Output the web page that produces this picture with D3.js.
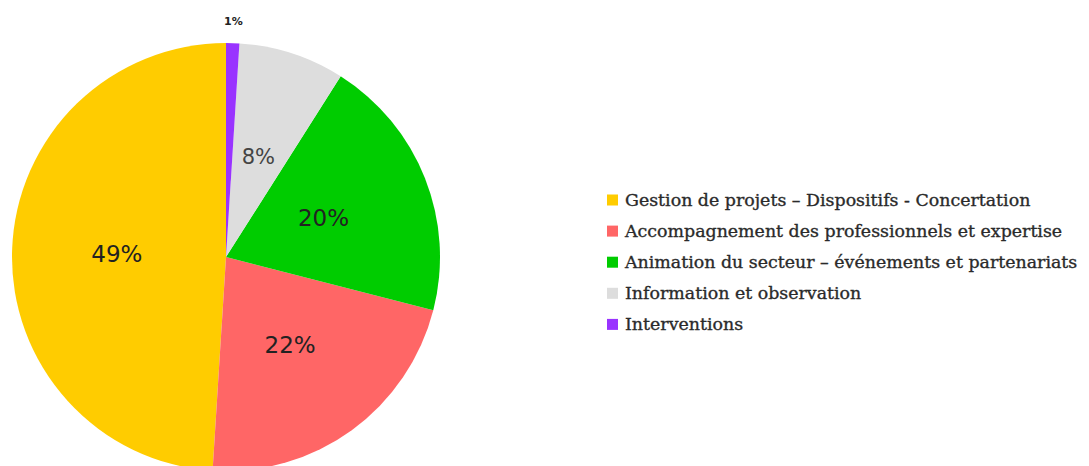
<!DOCTYPE html>
<html><head><meta charset="utf-8">
<script src="https://cdn.jsdelivr.net/npm/d3@7"></script>
<style>body{margin:0;background:#fff;}svg{display:block;}</style>
</head><body>
<svg id="chart" width="1089" height="466"></svg>
<script>
const categories = [
  "Gestion de projets – Dispositifs - Concertation",
  "Accompagnement des professionnels et expertise",
  "Animation du secteur – événements et partenariats",
  "Information et observation",
  "Interventions"
];
const values = [49, 22, 20, 8, 1];
const labels = ["49%", "22%", "20%", "8%", "1%"];
const colors = ["#FFCC00", "#FF6666", "#00CC00", "#DDDDDD", "#9933FF"];

const svg = d3.select("#chart");
const cx = 226, cy = 257, R = 214;

const pie = d3.pie().sort(null).value(d => d).startAngle(0).endAngle(-2 * Math.PI);
const arcs = pie(values);
const arc = d3.arc().innerRadius(0).outerRadius(R);
const g = svg.append("g").attr("transform", `translate(${cx},${cy})`);
g.selectAll("path").data(arcs).enter().append("path")
  .attr("d", arc).attr("fill", (d, i) => colors[i]);

const labelR = [0.51, 0.51, 0.49, 0.49, 1.1];
const labelSize = [23, 23, 23, 21, 11];
g.selectAll("text.lbl").data(arcs).enter().append("text")
  .attr("class", "lbl")
  .attr("transform", (d, i) => {
    const c = d3.arc().innerRadius(R * labelR[i]).outerRadius(R * labelR[i]).centroid(d);
    return `translate(${c[0]},${c[1]})`;
  })
  .attr("text-anchor", "middle").attr("dominant-baseline", "central")
  .attr("font-family", "'DejaVu Sans', sans-serif")
  .attr("font-size", (d, i) => labelSize[i])
  .attr("font-weight", (d, i) => i === 4 ? "bold" : "normal")
  .attr("fill", (d, i) => i === 3 ? "#444" : "#222")
  .text((d, i) => labels[i]);

const legend = svg.append("g").attr("transform", "translate(607,200)");
const rowH = 31.1;
const items = legend.selectAll("g").data(categories).enter().append("g")
  .attr("transform", (d, i) => `translate(0,${i * rowH})`);
items.append("rect").attr("x", 0).attr("y", -5.5).attr("width", 11).attr("height", 11)
  .attr("fill", (d, i) => colors[i]);
items.append("text").attr("x", 18).attr("y", 0).attr("dominant-baseline", "central")
  .attr("font-family", "'DejaVu Serif', serif").attr("font-size", 17.4)
  .attr("fill", "#2a2a2a").attr("stroke", "#2a2a2a").attr("stroke-width", 0.35)
  .text(d => d);
</script>
</body></html>
